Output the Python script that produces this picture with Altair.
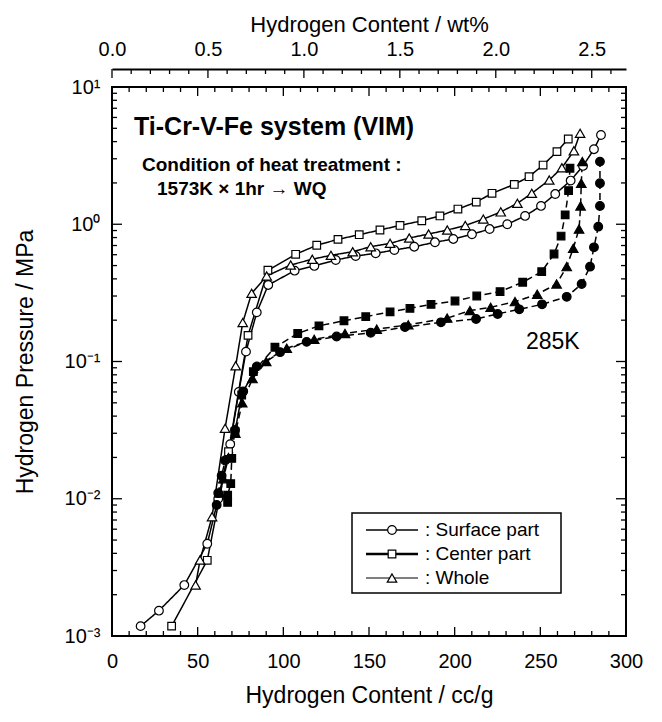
import altair as alt
import pandas as pd

# ---------------- data (x: Hydrogen content cc/g, y: pressure MPa) ----------------
SURF_ABS_X = [16.7, 27.4, 42.2, 55.6, 62.0, 69.0, 74.0, 78.2, 84.5, 91.2, 106.6, 118.1, 130.6, 142.2, 153.9,
              164.8, 176.4, 188.5, 199.2, 210.1, 220.4, 230.7, 241.1, 250.4, 258.7, 267.7, 274.9, 281.3, 285.4]
SURF_ABS_Y = [0.00118, 0.00153, 0.00235, 0.0047, 0.010, 0.025, 0.060, 0.118, 0.228, 0.361, 0.459, 0.497, 0.549,
              0.587, 0.614, 0.649, 0.686, 0.739, 0.781, 0.845, 0.923, 1.00, 1.15, 1.36, 1.66, 2.08, 2.66, 3.52, 4.47]

CENT_ABS_X = [34.8, 55.6, 68.0, 79.4, 91.0, 107.2, 119.5, 131.9, 144.3, 156.4, 168.1, 180.8, 191.4, 201.9,
              212.6, 221.8, 234.8, 243.4, 251.6, 259.7, 266.3]
CENT_ABS_Y = [0.00118, 0.00356, 0.022, 0.155, 0.462, 0.604, 0.703, 0.776, 0.839, 0.908, 0.98, 1.06, 1.15, 1.29,
              1.45, 1.68, 1.95, 2.22, 2.70, 3.38, 4.18]

WHOLE_ABS_X = [48.8, 51.4, 58.4, 66.0, 72.2, 76.3, 81.5, 90.3, 104.3, 116.9, 127.8, 140.5, 151.0, 162.3, 173.5,
               184.8, 195.7, 206.2, 216.7, 226.9, 236.6, 245.0, 255.2, 262.6, 269.6, 273.2]
WHOLE_ABS_Y = [0.00235, 0.00358, 0.0074, 0.0326, 0.0931, 0.192, 0.314, 0.420, 0.505, 0.556, 0.594, 0.631, 0.686,
               0.726, 0.794, 0.849, 0.908, 0.98, 1.09, 1.23, 1.42, 1.68, 2.10, 2.58, 3.43, 4.60]

SURF_DES_X = [61.1, 62.0, 64.0, 66.0, 71.8, 76.6, 84.5, 98.1, 113.6, 131.1, 151.0, 171.0, 192.0, 212.5, 225.1,
              237.7, 251.0, 265.4, 274.1, 279.0, 281.3, 283.8, 284.8, 284.8, 284.8]
SURF_DES_Y = [0.0090, 0.011, 0.0147, 0.019, 0.0317, 0.0606, 0.0919, 0.117, 0.139, 0.152, 0.162, 0.178, 0.193,
              0.204, 0.222, 0.240, 0.261, 0.296, 0.367, 0.491, 0.679, 0.960, 1.36, 1.99, 2.86]

CENT_DES_X = [67.5, 67.5, 69.3, 69.9, 71.8, 75.7, 82.5, 95.1, 108.4, 120.8, 135.4, 148.1, 162.3, 173.9, 186.2,
              200.2, 212.9, 226.5, 239.7, 250.8, 258.0, 262.1, 264.5, 266.5, 267.3]
CENT_DES_Y = [0.0094, 0.0106, 0.0129, 0.0197, 0.0308, 0.057, 0.0843, 0.127, 0.160, 0.182, 0.198, 0.212, 0.230,
              0.244, 0.261, 0.276, 0.300, 0.323, 0.378, 0.451, 0.607, 0.820, 1.17, 1.76, 2.56]

WHOLE_DES_X = [63.0, 65.0, 68.0, 72.0, 76.0, 82.0, 90.0, 102.0, 118.0, 136.0, 154.5, 172.9, 195.6, 208.9, 221.0,
               235.2, 248.2, 259.5, 265.4, 269.2, 272.6, 273.5, 273.9, 274.5]
WHOLE_DES_Y = [0.011, 0.014, 0.020, 0.030, 0.050, 0.075, 0.100, 0.125, 0.145, 0.160, 0.172, 0.185, 0.207, 0.235,
               0.248, 0.273, 0.309, 0.367, 0.491, 0.668, 0.923, 1.36, 1.99, 2.86]

SERIES = [
    ("Surface part abs", "abs", "circle", SURF_ABS_X, SURF_ABS_Y),
    ("Center part abs", "abs", "square", CENT_ABS_X, CENT_ABS_Y),
    ("Whole abs", "abs", "triangle", WHOLE_ABS_X, WHOLE_ABS_Y),
    ("Surface part des", "des", "circle", SURF_DES_X, SURF_DES_Y),
    ("Center part des", "des", "square", CENT_DES_X, CENT_DES_Y),
    ("Whole des", "des", "triangle", WHOLE_DES_X, WHOLE_DES_Y),
]

# axis ticks / labels
X_MAJOR = [0, 50, 100, 150, 200, 250, 300]
X_MINOR = [v for v in range(0, 301, 10) if v % 50]
Y_MAJOR = [0.001, 0.01, 0.1, 1, 10]
Y_MINOR = [m * 10.0 ** e for e in range(-3, 1) for m in range(2, 10)]
WT_MAJOR = [0.0, 0.5, 1.0, 1.5, 2.0, 2.5]
WT_MINOR = [round(i * 0.1, 1) for i in range(0, 27) if i % 5]
CC_PER_WT = 112.0

TITLE_TEXT = ["Ti-Cr-V-Fe system (VIM)"]
COND_TEXT = ["Condition of heat treatment :", "1573K × 1hr → WQ"]
TEMP_TEXT = ["285K"]
LEGEND_LABELS = [": Surface part", ": Center part", ": Whole"]

# ---------------- chart ----------------
FONT = "Liberation Sans"
W, H = 514, 549

rows = []
for name, kind, marker, xs_, ys_ in SERIES:
    for i, (xv, yv) in enumerate(zip(xs_, ys_)):
        rows.append({"series": name, "kind": kind, "marker": marker, "x": xv, "y": yv, "idx": i})
df = pd.DataFrame(rows)

xsc = alt.Scale(domain=[0, 300], nice=False, zero=False)
ysc = alt.Scale(type="log", domain=[0.001, 10], nice=False)

x_axis = alt.Axis(values=X_MAJOR, ticks=False, tickSize=0, domain=False, grid=False,
                  labelFontSize=20, labelPadding=15, labelFlush=False,
                  title="Hydrogen Content / cc/g", titleFontSize=23, titlePadding=13)
y_axis = alt.Axis(values=Y_MAJOR, ticks=False, tickSize=0, domain=False, grid=False,
                  labelFontSize=20, labelPadding=12,
                  labelExpr="datum.value > 5 ? '10¹' : datum.value > 0.5 ? '10⁰' : datum.value > 0.05 ? '10⁻¹' : datum.value > 0.005 ? '10⁻²' : '10⁻³'",
                  title="Hydrogen Pressure / MPa", titleFontSize=23, titlePadding=27)

lines = alt.Chart(df).mark_line(color="black", strokeWidth=1.5).encode(
    x=alt.X("x:Q", scale=xsc, axis=x_axis),
    y=alt.Y("y:Q", scale=ysc, axis=y_axis),
    detail="series:N",
    order="idx:Q",
    strokeDash=alt.StrokeDash("kind:N", scale=alt.Scale(domain=["abs", "des"], range=[[1, 0], [7, 4]]), legend=None),
)

fill_enc = alt.Fill("kind:N", scale=alt.Scale(domain=["abs", "des"], range=["white", "black"]), legend=None)


def pts(marker, shape, size):
    return alt.Chart(df).transform_filter(alt.datum.marker == marker).mark_point(
        filled=True, shape=shape, size=size, stroke="black", strokeWidth=1.2, opacity=1
    ).encode(
        x=alt.X("x:Q", scale=xsc, axis=None),
        y=alt.Y("y:Q", scale=ysc, axis=None),
        fill=fill_enc,
    )


pts_c = pts("circle", "circle", 75)
pts_s = pts("square", "square", 58)
pts_t = pts("triangle", "triangle-up", 90)


def xticks(vals, y0, y1):
    return alt.Chart(pd.DataFrame({"x": vals})).mark_rule(color="black", strokeWidth=1.3).encode(
        x=alt.X("x:Q", scale=xsc, axis=None), y=alt.value(y0), y2=alt.value(y1))


def yticks(vals, x0, x1):
    return alt.Chart(pd.DataFrame({"y": vals})).mark_rule(color="black", strokeWidth=1.3).encode(
        y=alt.Y("y:Q", scale=ysc, axis=None), x=alt.value(x0), x2=alt.value(x1))


tick_layers = [
    xticks(X_MAJOR, H, H - 9), xticks(X_MINOR, H, H - 5),
    xticks(X_MAJOR, 0, 9), xticks(X_MINOR, 0, 5),
    yticks(Y_MAJOR, 0, 10), yticks(Y_MINOR, 0, 5),
    yticks(Y_MAJOR, W, W - 10), yticks(Y_MINOR, W, W - 5),
]

# top wt% axis (separate line above the frame)
wt_axis = alt.Axis(orient="top", offset=18, values=[w * CC_PER_WT for w in WT_MAJOR],
                   labelExpr=f"format(datum.value / {CC_PER_WT}, '.1f')",
                   ticks=False, tickSize=0, domain=True, domainColor="black", domainWidth=2, grid=False,
                   labelFontSize=20, labelPadding=10, labelFlush=False,
                   title="Hydrogen Content / wt%", titleFontSize=22, titlePadding=3)
wt_major = alt.Chart(pd.DataFrame({"wt": WT_MAJOR})).transform_calculate(
    x=f"datum.wt * {CC_PER_WT}").mark_rule(color="black", strokeWidth=1.3).encode(
    x=alt.X("x:Q", scale=xsc, axis=wt_axis), y=alt.value(-18), y2=alt.value(-9))
wt_minor = alt.Chart(pd.DataFrame({"wt": WT_MINOR})).transform_calculate(
    x=f"datum.wt * {CC_PER_WT}").mark_rule(color="black", strokeWidth=1.3).encode(
    x=alt.X("x:Q", scale=xsc, axis=None), y=alt.value(-18), y2=alt.value(-13))


def text_layer(txt, x, y, size, weight="normal", align="left"):
    return alt.Chart(pd.DataFrame({"t": [txt]})).mark_text(
        font=FONT, fontSize=size, fontWeight=weight, align=align, baseline="middle", color="black"
    ).encode(text="t:N", x=alt.value(x), y=alt.value(y))


texts = [
    text_layer(TITLE_TEXT[0], 22, 40, 25, "bold"),
    text_layer(COND_TEXT[0], 30, 78, 19, "bold"),
    text_layer(COND_TEXT[1], 45, 102, 19, "bold"),
    text_layer(TEMP_TEXT[0], 414, 255, 23, "normal"),
]

# legend box
one = pd.DataFrame({"a": [0]})
legend_layers = [
    alt.Chart(one).mark_rect(fill="white", stroke="black", strokeWidth=1.5).encode(
        x=alt.value(240), x2=alt.value(449), y=alt.value(426), y2=alt.value(506))
]
leg_rows = [443, 467, 491]
leg_shapes = ["circle", "square", "triangle-up"]
leg_sizes = [75, 58, 90]
leg_widths = [1.5, 2.6, 1.1]
for i, lab in enumerate(LEGEND_LABELS):
    yy = leg_rows[i]
    legend_layers.append(alt.Chart(one).mark_rule(color="black", strokeWidth=leg_widths[i]).encode(
        x=alt.value(254), x2=alt.value(306), y=alt.value(yy)))
    legend_layers.append(alt.Chart(one).mark_point(
        filled=True, shape=leg_shapes[i], size=leg_sizes[i], fill="white", stroke="black",
        strokeWidth=1.2, opacity=1).encode(x=alt.value(280), y=alt.value(yy)))
    legend_layers.append(text_layer(lab, 313, yy, 19, "normal"))

chart = alt.layer(
    lines, *tick_layers, wt_major, wt_minor, pts_c, pts_s, pts_t, *texts, *legend_layers
).resolve_axis(x="independent", y="independent").properties(
    width=W, height=H,
    autosize=alt.AutoSizeParams(type="none"),
    padding={"left": 104, "top": 79, "right": 28, "bottom": 78},
    background="white",
).configure_axis(
    labelFont=FONT, titleFont=FONT, labelColor="black", titleColor="black", titleFontWeight="normal"
).configure_view(stroke="black", strokeWidth=2)

chart.save("out.html", embed_options={"renderer": "svg", "actions": False})
